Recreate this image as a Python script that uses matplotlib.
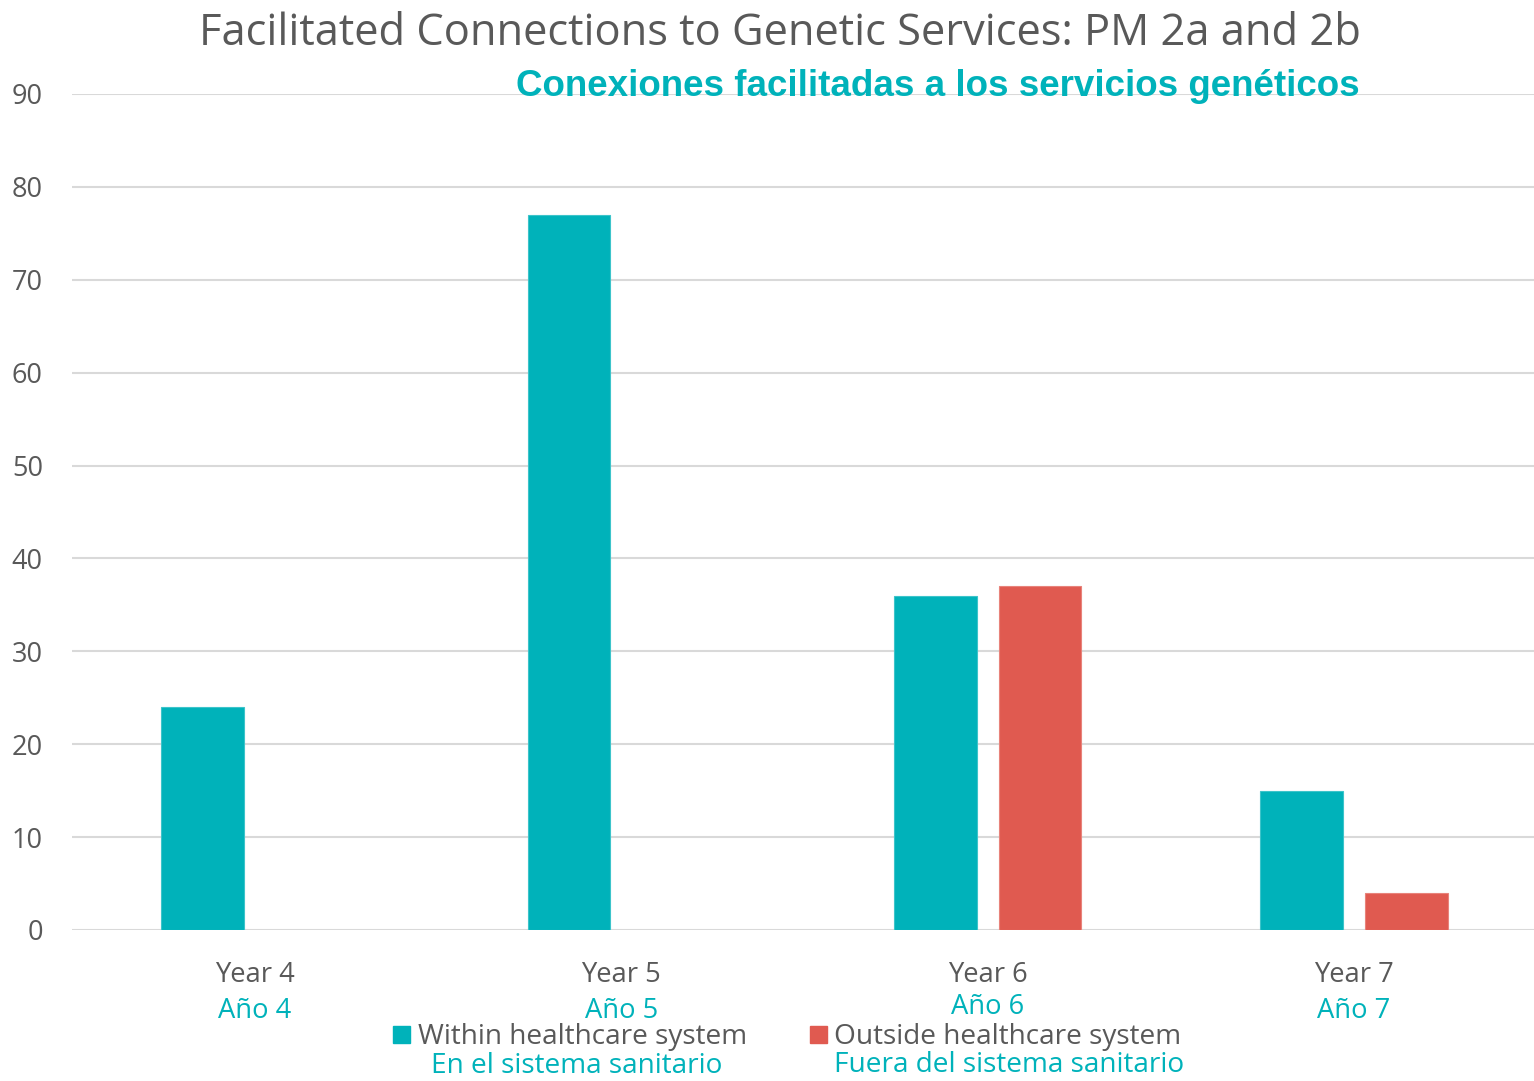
import matplotlib
matplotlib.use("Agg")
import matplotlib.pyplot as plt
import numpy as np

categories = ["Year 4", "Year 5", "Year 6", "Year 7"]
categories_es = ["Año 4", "Año 5", "Año 6", "Año 7"]
within = [24, 77, 36, 15]
outside = [np.nan, np.nan, 37, 4]
series_en = ["Within healthcare system", "Outside healthcare system"]
series_es = ["En el sistema sanitario", "Fuera del sistema sanitario"]
title_en = "Facilitated Connections to Genetic Services: PM 2a and 2b"
title_es = "Conexiones facilitadas a los servicios genéticos"
yticks = [0, 10, 20, 30, 40, 50, 60, 70, 80, 90]

TEAL = "#00B2BA"
RED = "#E05A50"
GRAY = "#595959"
GRID = "#D9D9D9"
FONT = "Open Sans"

fig = plt.figure(figsize=(15.34, 10.81), dpi=100)
ax = fig.add_axes([72/1534, 1-930/1081, 1-72/1534, (930-94)/1081])

x = np.arange(len(categories))
w = 0.226
off = 0.143
ax.bar(x - off, within, width=w, color=TEAL, edgecolor="#3CC4CA", linewidth=0.8, zorder=3)
ax.bar(x + off, outside, width=w, color=RED, edgecolor="#E8837B", linewidth=0.8, zorder=3)

ax.set_xlim(-0.5, 3.492)
ax.set_ylim(0, 90)
ax.set_yticks(yticks)
ax.set_yticklabels([str(t) for t in yticks], fontsize=19.5, color=GRAY, family=FONT)
ax.tick_params(axis="y", length=0, pad=21)
ax.set_xticks(x)
ax.set_xticklabels(categories, fontsize=19.7, color=GRAY, family=FONT)
ax.tick_params(axis="x", length=0, pad=22)
ax.grid(axis="y", color=GRID, linewidth=1.5, zorder=0)
for s in ax.spines.values():
    s.set_visible(False)

es_y = [-0.097, -0.097, -0.092, -0.097]
for xi, lab, yy in zip(x, categories_es, es_y):
    ax.text(xi, yy, lab, transform=ax.get_xaxis_transform(), ha="center", va="center",
            fontsize=19.7, color=TEAL, family=FONT)

fig.text(780/1534, 1-34/1081, title_en, ha="center", va="center", fontsize=31.3, color=GRAY, family=FONT)
fig.text(1360/1534, 1-86/1081, title_es, ha="right", va="center", fontsize=26.5, color=TEAL,
         family=["Liberation Sans"], fontweight="bold")

# legend
def leg_item(xsq, color, xt, label, xes, label_es, yes):
    fig.patches.append(plt.Rectangle((xsq/1534, 1-1043/1081), 17/1534, 17/1081,
                                     transform=fig.transFigure, color=color, figure=fig))
    fig.text(xt/1534, 1-1037/1081, label, ha="left", va="center", fontsize=20.2, color=GRAY, family=FONT)
    fig.text(xes/1534, 1-yes/1081, label_es, ha="center", va="center", fontsize=20.2, color=TEAL, family=FONT)

leg_item(393, TEAL, 418, series_en[0], 577, series_es[0], 1066)
leg_item(810, RED, 834, series_en[1], 1009, series_es[1], 1065)

fig.savefig("out.png", dpi=100)
